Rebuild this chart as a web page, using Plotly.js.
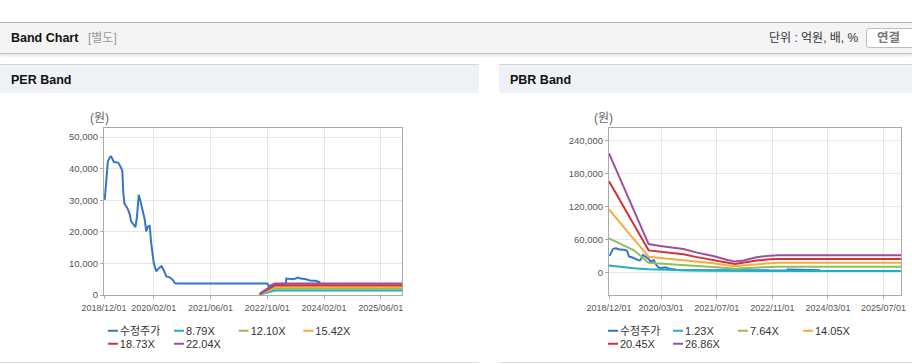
<!DOCTYPE html>
<html><head><meta charset="utf-8">
<script src="https://cdn.plot.ly/plotly-3.0.1.min.js"></script>
<style>
html,body{margin:0;padding:0}
body{width:912px;height:364px;overflow:hidden;background:#fff;position:relative;font-family:"Liberation Sans","Noto Sans CJK KR",sans-serif;color:#111}
.abs{position:absolute}
#bar{left:0;top:22px;width:912px;height:30px;background:#f4f4f4;border-top:1px solid #b3b3b3;border-bottom:1px solid #bdbdbd;box-shadow:0 2px 3px rgba(0,0,0,0.10)}
.ttl{font-weight:bold;font-size:12.5px;white-space:nowrap}
.ph{top:64px;height:28px;background:#eef2f7;border-top:1px solid #d3d3d3}
.pb{top:362px;height:1px;background:#dedede}
#btn{left:866px;top:28px;width:60px;height:18px;border:1px solid #bdbdbd;border-radius:3px;background:#fff;font-size:12.5px;font-weight:bold;color:#777;line-height:18px;padding-left:10px;box-sizing:content-box}
</style>
</head><body>
<div id="bar" class="abs"></div>
<div class="abs ttl" style="left:11px;top:23px;line-height:30px;">Band Chart</div>
<div class="abs" style="left:88px;top:23px;line-height:30px;font-size:12px;color:#999;">[별도]</div>
<div class="abs" style="left:769px;top:23px;line-height:30px;font-size:12px;color:#333;">단위 : 억원, 배, %</div>
<div id="btn" class="abs">연결</div>
<div class="abs ph" style="left:0;width:479px;"></div>
<div class="abs ttl" style="left:11px;top:66px;line-height:29px;">PER Band</div>
<div class="abs ph" style="left:499px;width:413px;"></div>
<div class="abs ttl" style="left:510px;top:66px;line-height:29px;">PBR Band</div>
<div class="abs pb" style="left:0;width:479px;"></div>
<div class="abs pb" style="left:499px;width:413px;"></div>
<div id="per" class="abs" style="left:0;top:93px;width:479px;height:269px;"></div>
<div id="pbr" class="abs" style="left:499px;top:93px;width:413px;height:269px;"></div>
<script>
// ---- data ----
const priceName = "수정주가";
const priceDates = ["2018-12-07","2018-12-13","2018-12-19","2018-12-27","2019-01-03","2019-01-20","2019-02-01","2019-02-24","2019-04-01","2019-04-22","2019-05-07","2019-05-16","2019-05-25","2019-06-19","2019-07-07","2019-07-22","2019-08-13","2019-08-28","2019-09-10","2019-09-25","2019-10-07","2019-10-25","2019-11-16","2019-11-28","2019-12-13","2019-12-28","2020-01-10","2020-02-01","2020-02-22","2020-03-16","2020-04-07","2020-04-25","2020-05-19","2020-06-16","2020-07-13","2020-08-01","2020-08-10","2022-10-01","2022-10-16","2022-11-16","2023-01-01","2023-03-10","2023-03-14","2023-04-15","2023-05-15","2023-06-24","2023-07-15","2023-09-01","2023-10-01","2023-11-15","2023-12-15","2023-12-20","2023-12-23","2023-12-26"];
const priceValues = [30100,33300,35900,39000,42200,43600,43800,42100,41900,40600,39300,32200,29000,27500,25900,23300,22200,21500,24800,31700,30100,27500,23800,20100,21700,21900,16400,10100,7500,8500,9100,8000,5900,5600,4800,3800,3600,3600,2800,3300,3500,3600,5200,5000,5000,5500,5200,5000,4600,4500,4200,3900,4400,3900];

const perBandNames = ["8.79X","12.10X","15.42X","18.73X","22.04X"];
const perBandDates = ["2022-07-28","2022-12-06","2025-12-01"];
const perBand1 = [150,1420,1420];
const perBand2 = [200,1960,1960];
const perBand3 = [250,2500,2500];
const perBand4 = [300,3070,3070];
const perBand5 = [350,3640,3640];

const pbrBandNames = ["1.23X","7.64X","14.05X","20.45X","26.86X"];
const pbrBandDates = ["2018-12-01","2019-03-10","2019-07-04","2019-11-13","2020-02-22","2020-06-19","2020-09-13","2021-01-10","2021-06-01","2021-09-25","2021-12-10","2022-02-19","2022-06-15","2022-10-10","2022-12-22","2025-12-01"];
const pbrBand1 = [12200,9500,7300,5500,4800,3600,3400,3200,3000,2700,2500,2600,2600,2500,2400,2400];
const pbrBand2 = [62000,51700,40700,17300,15600,13900,13200,11400,9700,7700,6600,7500,8900,9900,10300,10300];
const pbrBand3 = [114600,89000,61000,28500,26400,24300,23000,19600,16400,12800,11000,12500,15200,16700,17400,17400];
const pbrBand4 = [166000,129000,88000,40000,37200,34600,32800,27700,23100,18000,15200,17400,21400,23600,24300,24300];
const pbrBand5 = [217000,169000,114000,51500,48000,44900,42600,35900,29800,23000,19500,21500,27400,30400,31300,31300];

const perTickVals = ["2018-12-01","2020-02-01","2021-06-01","2022-10-01","2024-02-01","2025-06-01"];
const perTickText = ["2018/12/01","2020/02/01","2021/06/01","2022/10/01","2024/02/01","2025/06/01"];
const pbrTickVals = ["2018-12-01","2020-03-01","2021-07-01","2022-11-01","2024-03-01","2025-07-01"];
const pbrTickText = ["2018/12/01","2020/03/01","2021/07/01","2022/11/01","2024/03/01","2025/07/01"];
const unitLabel = "(원)";

// ---- styles ----
const FONT = '"Liberation Sans","Noto Sans CJK KR",sans-serif';
const priceColor = "#3476c6";
const bandColors = ["#1bb1c6","#93bd5b","#f1ac42","#d03233","#9b4f9e"];
const legendIds = ['legend','legend2','legend3','legend4','legend5','legend6'];

function buildTraces(bandDates, bands, names){
  const t = [{x: priceDates, y: priceValues, name: priceName, type:'scatter', mode:'lines',
     line:{color:priceColor,width:2}}];
  bands.forEach((b,i)=>{
    t.push({x: bandDates, y: b, name: names[i], type:'scatter', mode:'lines',
      line:{color:bandColors[i],width:2}});
  });
  t.forEach((tr,i)=>{ tr.legend = legendIds[i]; });
  return t;
}
function buildLayout(w,h,m,tickVals,tickText,yRange,dtick,legXs,unitX){
  const leg = (x,y)=>({orientation:'h', x:x, xanchor:'left', y:y, yanchor:'top',
     font:{family:FONT,size:11,color:'#333'},
     bgcolor:'rgba(0,0,0,0)', borderwidth:0, itemclick:false, itemdoubleclick:false});
  const L = {
    width:w, height:h, margin:Object.assign({autoexpand:false},m), paper_bgcolor:'rgba(0,0,0,0)', plot_bgcolor:'#fff',
    font:{family:FONT,size:9,color:'#555'}, showlegend:true,
    xaxis:{type:'date', range:['2018-12-01','2025-12-01'], tickmode:'array', tickvals:tickVals, ticktext:tickText,
      showgrid:true, gridcolor:'#e6e6e6', showline:true, mirror:true, linecolor:'#aaa', linewidth:1,
      ticks:'outside', ticklen:3, tickcolor:'#aaa', ticklabelstandoff:1, tickfont:{size:9,color:'#555'}, zeroline:false, fixedrange:true},
    yaxis:{range:yRange, dtick:dtick, tick0:0, tickformat:',d', showgrid:true, gridcolor:'#e6e6e6',
      showline:true, mirror:true, linecolor:'#aaa', linewidth:1, ticks:'outside', ticklen:3, tickcolor:'#aaa',
      tickfont:{size:9.5,color:'#555'}, zeroline:false, fixedrange:true},
    annotations:[{text:unitLabel, xref:'paper', yref:'paper', x:unitX, y:1.058, xanchor:'center', yanchor:'middle',
      showarrow:false, font:{family:FONT,size:12,color:'#666'}}]
  };
  legendIds.forEach((id,i)=>{
    L[id] = leg(legXs[i%4], i<4 ? -0.127 : -0.205);
  });
  return L;
}
function fixLegend(gd){
  gd.querySelectorAll('.legendlines path').forEach(p=>p.setAttribute('d','M28,0h10'));
}
const cfg = {staticPlot:true, displayModeBar:false};
Plotly.newPlot('per', buildTraces(perBandDates,[perBand1,perBand2,perBand3,perBand4,perBand5],perBandNames),
  buildLayout(479,269,{l:104,r:77,t:35,b:67},perTickVals,perTickText,[0,52850],10000,[-0.081,0.1409,0.358,0.575],-0.0144), cfg).then(fixLegend);
Plotly.newPlot('pbr', buildTraces(pbrBandDates,[pbrBand1,pbrBand2,pbrBand3,pbrBand4,pbrBand5],pbrBandNames),
  buildLayout(413,269,{l:110,r:11,t:35,b:67},pbrTickVals,pbrTickText,[-41400,263200],60000,[-0.0993,0.1233,0.3459,0.5685],-0.0185), cfg).then(fixLegend);
</script>
</body></html>
